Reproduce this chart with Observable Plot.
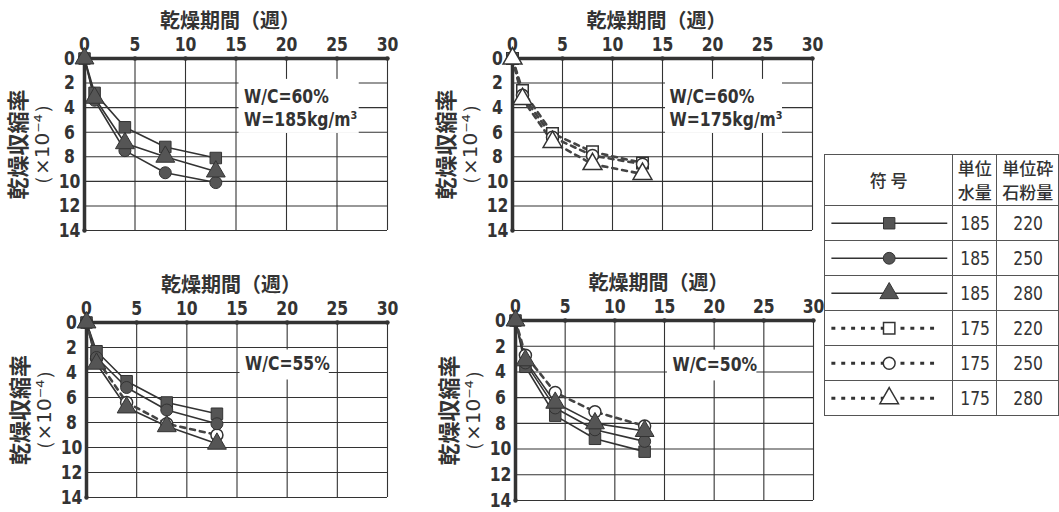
<!DOCTYPE html>
<html><head><meta charset="utf-8">
<script src="https://cdn.jsdelivr.net/npm/d3@7"></script>
<script src="https://cdn.jsdelivr.net/npm/@observablehq/plot@0.6"></script>
<style>
body{margin:0;background:#fff;}
#wrap{position:relative;width:1059px;height:512px;overflow:hidden;background:#fff;}
.panel{position:absolute;}
#legend{position:absolute;left:824px;top:154px;}
#legend table{border-collapse:collapse;color:#333;}
#legend td{border:1.5px solid #555;padding:0;text-align:center;vertical-align:middle;}
.num{font-family:'DejaVu Sans',sans-serif;font-size:20px;}
.num span{display:inline-block;transform:scaleX(0.78);}
.hd{font-family:'Noto Sans CJK JP',sans-serif;font-size:17px;line-height:24px;font-weight:500;}
</style></head><body><div id="wrap"><div id="legend"></div></div>
<script>
// ---------- data ----------
const weeks = [0, 1, 4, 8, 13];
const xTicks = [0, 5, 10, 15, 20, 25, 30];
const yTicks = [0, 2, 4, 6, 8, 10, 12, 14];
const xGrid = [5, 10, 15, 20, 25, 30];
const yGrid = [2, 4, 6, 8, 10, 12, 14];
const xTitle = "乾燥期間（週）";
const yTitle = "乾燥収縮率";
const yUnit = "（×10⁻⁴）";

const seriesKeys   = ["185-220", "185-250", "185-280", "175-220", "175-250", "175-280"];
const seriesWater  = [185, 185, 185, 175, 175, 175];
const seriesPowder = [220, 250, 280, 220, 250, 280];
const seriesSymbol = ["square", "circle", "triangle", "square", "circle", "triangle"];
const seriesDashed = [false, false, false, true, true, true];

const legendHeader = ["符 号", "単位\n水量", "単位砕\n石粉量"];

// panel 1 : W/C=60%, W=185
const p1_185_220 = [0, 2.8, 5.6, 7.2, 8.1];
const p1_185_250 = [0, 3.4, 7.5, 9.3, 10.1];
const p1_185_280 = [0, 3.2, 6.9, 8.0, 9.2];
const p1Notes = ["W/C=60%", "W=185kg/m³"];
// panel 2 : W/C=60%, W=175
const p2_175_220 = [0, 2.6, 6.1, 7.6, 8.5];
const p2_175_250 = [0, 3.0, 6.4, 7.9, 8.6];
const p2_175_280 = [0, 3.3, 6.8, 8.6, 9.4];
const p2Notes = ["W/C=60%", "W=175kg/m³"];
// panel 3 : W/C=55%
const p3_185_220 = [0, 2.3, 4.7, 6.4, 7.3];
const p3_185_250 = [0, 2.8, 5.2, 7.0, 8.1];
const p3_185_280 = [0, 3.3, 6.8, 8.3, 9.7];
const p3_175_250 = [0, 2.9, 6.4, 8.1, 9.0];
const p3Notes = ["W/C=55%"];
// panel 4 : W/C=50%
const p4_185_220 = [0, 3.6, 7.4, 9.2, 10.2];
const p4_185_250 = [0, 3.3, 6.8, 8.5, 9.4];
const p4_185_280 = [0, 3.1, 6.4, 8.0, 8.6];
const p4_175_250 = [0, 2.7, 5.6, 7.1, 8.2];
const p4Notes = ["W/C=50%"];

// ---------- styling / layout ----------
const NUMFONT = "CondNum,'DejaVu Sans',sans-serif";
const UNITFONT = "'DejaVu Sans',sans-serif";
const CJK = "'Noto Sans CJK JP',sans-serif";
const INK = "#333";
const FILL = "#555";

const panels = [
  {left: 0, top: 0, width: 400, height: 240, mL: 84, mR: 13, mT: 58, mB: 10,
   series: {"185-220": p1_185_220, "185-250": p1_185_250, "185-280": p1_185_280},
   notes: p1Notes, noteX: 15.8, noteY: [3.1, 5.0], box: [15.3, 27.2, 1.7, 6.1]},
  {left: 420, top: 0, width: 410, height: 240, mL: 92, mR: 18, mT: 58, mB: 10,
   series: {"175-220": p2_175_220, "175-250": p2_175_250, "175-280": p2_175_280},
   notes: p2Notes, noteX: 15.7, noteY: [3.1, 5.0], box: [15.3, 27.0, 1.7, 6.1]},
  {left: 0, top: 260, width: 400, height: 245, mL: 86, mR: 13, mT: 62, mB: 8,
   series: {"185-220": p3_185_220, "185-250": p3_185_250, "185-280": p3_185_280, "175-250": p3_175_250},
   notes: p3Notes, noteX: 15.8, noteY: [3.3], box: [15.3, 24.2, 2.2, 4.6]},
  {left: 420, top: 260, width: 410, height: 250, mL: 95, mR: 17, mT: 60, mB: 10,
   series: {"185-220": p4_185_220, "185-250": p4_185_250, "185-280": p4_185_280, "175-250": p4_175_250},
   notes: p4Notes, noteX: 15.8, noteY: [3.45], box: [15.3, 24.3, 2.3, 4.7]}
];

const wrap = document.getElementById("wrap");

function condense(root) {
  root.querySelectorAll("text").forEach(t => {
    let el = t, fam = "";
    while (el && el !== root) {
      const f = el.getAttribute && el.getAttribute("font-family");
      if (f) { fam = f; break; }
      el = el.parentNode;
    }
    if (!fam.includes("CondNum")) return;
    const L = t.getComputedTextLength();
    t.setAttribute("textLength", (L * 0.78).toFixed(2));
    t.setAttribute("lengthAdjust", "spacingAndGlyphs");
  });
}

for (const p of panels) {
  const rows = [];
  for (const [key, vals] of Object.entries(p.series)) {
    const i = seriesKeys.indexOf(key);
    vals.forEach((v, j) => rows.push({key, week: weeks[j], value: v, symbol: seriesSymbol[i], dashed: seriesDashed[i]}));
  }
  const solid = rows.filter(d => !d.dashed);
  const dashed = rows.filter(d => d.dashed);
  const noteRows = p.notes.map((t, k) => ({text: t, x: p.noteX, y: p.noteY[k]}));
  const dotMarks = [];
  for (const sym of ["square", "circle", "triangle"]) {
    const rs = rows.filter(d => d.symbol === sym);
    const r = sym === "triangle" ? 7 : (sym === "square" ? 6.5 : 6);
    dotMarks.push(Plot.dot(rs.filter(d => d.dashed), {x: "week", y: "value", symbol: sym, r, fill: "white", stroke: INK, strokeWidth: 1.5}));
    dotMarks.push(Plot.dot(rs.filter(d => !d.dashed), {x: "week", y: "value", symbol: sym, r, fill: FILL, stroke: INK, strokeWidth: 1}));
  }
  const chart = Plot.plot({
    width: p.width, height: p.height,
    marginLeft: p.mL, marginRight: p.mR, marginTop: p.mT, marginBottom: p.mB,
    style: {fontFamily: NUMFONT, background: "transparent", overflow: "visible"},
    x: {domain: [0, 30], axis: null},
    y: {domain: [0, 14], reverse: true, axis: null},
    marks: [
      Plot.ruleX(xGrid, {stroke: INK, strokeWidth: 1.1}),
      Plot.ruleY(yGrid, {stroke: INK, strokeWidth: 1.1}),
      Plot.rect([p.box], {x1: d => d[0], x2: d => d[1], y1: d => d[2], y2: d => d[3], fill: "white"}),
      Plot.ruleY([0], {stroke: INK, strokeWidth: 3.5}),
      Plot.ruleX([0], {stroke: INK, strokeWidth: 3.5}),
      Plot.dot(xGrid, {x: d => d, y: 0, r: 2.2, fill: INK}),
      Plot.dot([14], {x: 0, y: d => d, r: 2.2, fill: INK}),
      Plot.text(xTicks, {x: d => d, y: 0, text: d => String(d), dy: -14, fontFamily: NUMFONT, fontSize: 20, fontWeight: "bold", fill: INK}),
      Plot.text(yTicks, {x: 0, y: d => d, text: d => String(d), dx: -15, fontFamily: NUMFONT, fontSize: 20, fontWeight: "bold", fill: INK}),
      Plot.text([xTitle], {frameAnchor: "top", textAnchor: "middle", text: d => d, dy: -45, dx: -6, fontFamily: CJK, fontSize: 20, fontWeight: "bold", fill: INK}),
      Plot.text([yTitle], {frameAnchor: "left", textAnchor: "middle", text: d => d, dx: -66, rotate: -90, fontFamily: CJK, fontSize: 22, fontWeight: "bold", fill: INK}),
      Plot.text([yUnit], {frameAnchor: "left", textAnchor: "middle", text: d => d, dx: -42, rotate: -90, fontFamily: UNITFONT, fontSize: 20, fill: INK}),
      Plot.text(noteRows, {x: "x", y: "y", text: "text", textAnchor: "start", fontFamily: NUMFONT, fontSize: 20, fontWeight: "bold", fill: INK}),
      Plot.line(solid, {x: "week", y: "value", z: "key", stroke: INK, strokeWidth: 1.6}),
      Plot.line(dashed, {x: "week", y: "value", z: "key", stroke: "#444", strokeWidth: 2.6, strokeDasharray: "5,5"}),
      ...dotMarks
    ]
  });
  const div = document.createElement("div");
  div.className = "panel";
  div.style.left = p.left + "px";
  div.style.top = p.top + "px";
  div.appendChild(chart);
  wrap.appendChild(div);
  condense(chart);
}

// ---------- legend table ----------
const legend = document.getElementById("legend");
const table = document.createElement("table");
const colW = [129, 43, 61];
const hr = document.createElement("tr");
legendHeader.forEach((h, k) => {
  const td = document.createElement("td");
  td.className = "hd";
  td.style.width = colW[k] + "px";
  td.style.height = "50px";
  td.innerHTML = h.replace("\n", "<br>");
  hr.appendChild(td);
});
table.appendChild(hr);
seriesKeys.forEach((key, i) => {
  const tr = document.createElement("tr");
  const td0 = document.createElement("td");
  td0.style.height = "34px";
  const sym = seriesSymbol[i];
  const r = sym === "triangle" ? 7 : (sym === "square" ? 6.5 : 6);
  const sv = Plot.plot({
    width: 129, height: 34, margin: 0,
    x: {domain: [0, 1], axis: null}, y: {domain: [-1, 1], axis: null},
    marks: [
      Plot.ruleY([0], {x1: 0.05, x2: seriesDashed[i] ? 0.9 : 0.96, stroke: INK,
        strokeWidth: seriesDashed[i] ? 3 : 1.6, strokeDasharray: seriesDashed[i] ? "4,6" : null}),
      Plot.dot([0], {x: 0.5, y: 0, symbol: sym, r,
        fill: seriesDashed[i] ? "white" : FILL, stroke: INK, strokeWidth: seriesDashed[i] ? 1.5 : 1})
    ]
  });
  sv.style.display = "block";
  td0.appendChild(sv);
  tr.appendChild(td0);
  [seriesWater[i], seriesPowder[i]].forEach(v => {
    const td = document.createElement("td");
    td.className = "num";
    const sp = document.createElement("span");
    sp.textContent = v;
    td.appendChild(sp);
    tr.appendChild(td);
  });
  table.appendChild(tr);
});
legend.appendChild(table);
</script>
</body></html>
